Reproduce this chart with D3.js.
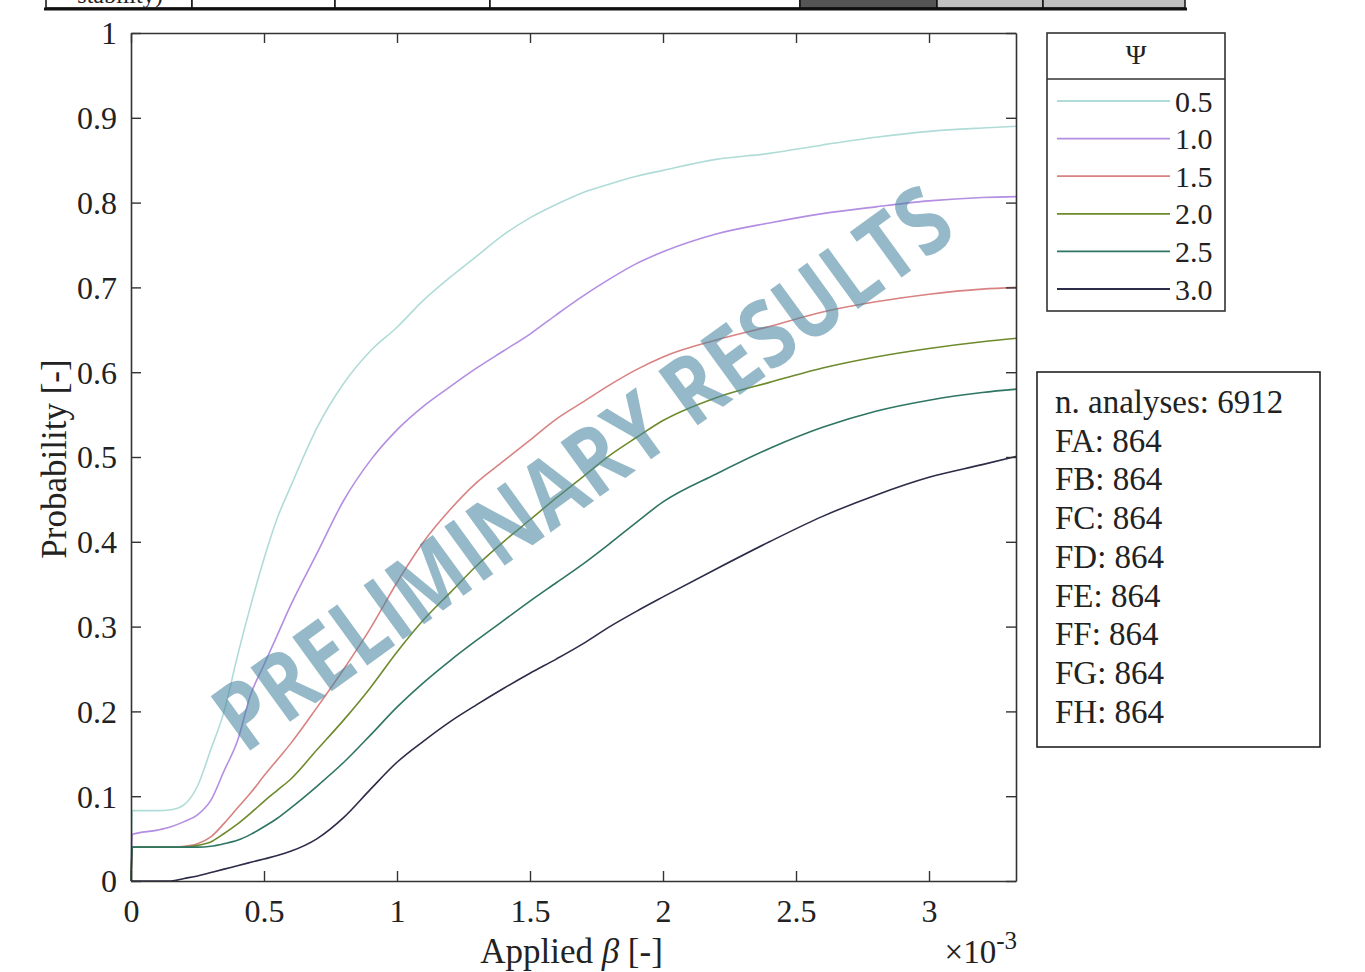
<!DOCTYPE html>
<html>
<head>
<meta charset="utf-8">
<script src="https://cdn.jsdelivr.net/npm/d3@7"></script>
<style>
  body { margin: 0; background: #fff; }
  svg text { font-family: "Liberation Serif", "DejaVu Serif", serif; fill: #222; }
</style>
</head>
<body>
<script>
// applied beta, in units of 1e-3
const betaVals = [0, 0.005, 0.1, 0.15, 0.2, 0.25, 0.3, 0.35, 0.4, 0.45, 0.5, 0.55, 0.6, 0.7, 0.8, 0.9,
                  1.0, 1.1, 1.2, 1.3, 1.4, 1.5, 1.6, 1.7, 1.8, 1.9, 2.0, 2.2, 2.4, 2.6, 2.8, 3.0, 3.2, 3.33]

const psi05 = [0, 0.083, 0.083, 0.084, 0.09, 0.112, 0.155, 0.2, 0.265, 0.325, 0.38, 0.428, 0.465, 0.535, 0.587, 0.625,
               0.653, 0.685, 0.712, 0.737, 0.762, 0.782, 0.798, 0.812, 0.822, 0.831, 0.838, 0.851, 0.858, 0.868, 0.877, 0.884, 0.888, 0.890]
const psi10 = [0, 0.055, 0.06, 0.064, 0.07, 0.078, 0.095, 0.13, 0.165, 0.22, 0.255, 0.29, 0.325, 0.387, 0.449, 0.496,
               0.532, 0.56, 0.583, 0.605, 0.625, 0.645, 0.668, 0.69, 0.71, 0.728, 0.742, 0.763, 0.776, 0.787, 0.795, 0.802, 0.806, 0.807]
const psi15 = [0, 0.04, 0.04, 0.04, 0.041, 0.044, 0.052, 0.068, 0.086, 0.104, 0.124, 0.143, 0.162, 0.205, 0.25, 0.298,
               0.352, 0.40, 0.438, 0.47, 0.495, 0.52, 0.545, 0.565, 0.585, 0.603, 0.618, 0.638, 0.654, 0.671, 0.683, 0.692, 0.698, 0.700]
const psi20 = [0, 0.04, 0.04, 0.04, 0.04, 0.042, 0.046, 0.056, 0.067, 0.08, 0.094, 0.107, 0.12, 0.155, 0.19, 0.228,
               0.27, 0.308, 0.34, 0.372, 0.40, 0.426, 0.452, 0.477, 0.502, 0.523, 0.543, 0.57, 0.588, 0.605, 0.618, 0.628, 0.636, 0.640]
const psi25 = [0, 0.04, 0.04, 0.04, 0.04, 0.04, 0.041, 0.044, 0.048, 0.055, 0.064, 0.074, 0.086, 0.112, 0.14, 0.172,
               0.205, 0.234, 0.26, 0.284, 0.307, 0.33, 0.352, 0.374, 0.398, 0.423, 0.447, 0.48, 0.51, 0.535, 0.554, 0.567, 0.576, 0.580]
const psi30 = [0, 0, 0, 0, 0.003, 0.006, 0.01, 0.014, 0.018, 0.022, 0.026, 0.03, 0.035, 0.05, 0.075, 0.108,
               0.14, 0.165, 0.188, 0.208, 0.227, 0.245, 0.262, 0.28, 0.30, 0.318, 0.335, 0.368, 0.40, 0.43, 0.455, 0.476, 0.491, 0.501]

const psiLabels = ["0.5", "1.0", "1.5", "2.0", "2.5", "3.0"]
const psiColors = ["#b0dcd8", "#b38ee2", "#d88282", "#6d8a2c", "#2f7563", "#2c2b48"]
const psiSeries = [psi05, psi10, psi15, psi20, psi25, psi30]

const xTicks = [0, 0.5, 1, 1.5, 2, 2.5, 3]
const yTicks = [0, 0.1, 0.2, 0.3, 0.4, 0.5, 0.6, 0.7, 0.8, 0.9, 1]

const infoLines = ["n. analyses: 6912", "FA: 864", "FB: 864", "FC: 864", "FD: 864", "FE: 864", "FF: 864", "FG: 864", "FH: 864"]

let W = 1365
let H = 972
let pL = 131, pR = 1016, pT = 33, pB = 881

let svg = d3.select("body").append("svg")
            .attr("width", W)
            .attr("height", H)

// cut-off table on top of the page
let tableEdges = [46, 192, 335, 490, 800, 937, 1043, 1185]
let tableFill = ["#fff", "#fff", "#fff", "#fff", "#555", "#c0c0c0", "#c0c0c0"]
let table = svg.append("g")
table.selectAll("rect")
     .data(tableFill)
     .enter()
     .append("rect")
        .attr("x", (d, i) => tableEdges[i])
        .attr("y", -2)
        .attr("width", (d, i) => tableEdges[i + 1] - tableEdges[i])
        .attr("height", 10)
        .attr("fill", d => d)
        .attr("stroke", "#111")
        .attr("stroke-width", 1.5)
table.append("line")
     .attr("x1", 44).attr("x2", 1187)
     .attr("y1", 9).attr("y2", 9)
     .attr("stroke", "#111")
     .attr("stroke-width", 3)
table.append("text")
     .attr("x", 120).attr("y", 3)
     .attr("text-anchor", "middle")
     .attr("font-size", 24)
     .text("stability)")

let x = d3.scaleLinear().domain([0, 3.327]).range([pL, pR])
let y = d3.scaleLinear().domain([0, 1]).range([pB, pT])

// curves
let line = d3.line()
             .x((d, i) => x(betaVals[i]))
             .y(d => y(d))
             .curve(d3.curveMonotoneX)

svg.append("g")
   .selectAll("path")
   .data(psiSeries)
   .enter()
   .append("path")
      .attr("d", d => line(d))
      .attr("fill", "none")
      .attr("stroke", (d, i) => psiColors[i])
      .attr("stroke-width", 1.6)

// axes, ticks pointing inward like matlab
let fmtY = d => d === 0 ? "0" : d === 1 ? "1" : d3.format(".1f")(d)
let fmtX = d => d === 0 ? "0" : d3.format("~g")(d)

let axB = svg.append("g")
             .attr("transform", "translate(0," + pB + ")")
             .call(d3.axisBottom(x).tickValues(xTicks).tickFormat(fmtX).tickSizeInner(-10).tickSizeOuter(0))
let axT = svg.append("g")
             .attr("transform", "translate(0," + pT + ")")
             .call(d3.axisTop(x).tickValues(xTicks).tickFormat("").tickSizeInner(-10).tickSizeOuter(0))
let axL = svg.append("g")
             .attr("transform", "translate(" + pL + ",0)")
             .call(d3.axisLeft(y).tickValues(yTicks).tickFormat(fmtY).tickSizeInner(-10).tickSizeOuter(0).tickPadding(14))
let axR = svg.append("g")
             .attr("transform", "translate(" + pR + ",0)")
             .call(d3.axisRight(y).tickValues(yTicks).tickFormat("").tickSizeInner(-10).tickSizeOuter(0))

;[axB, axT, axL, axR].forEach(a => {
    a.select(".domain").attr("stroke", "#333").attr("stroke-width", 1.6)
    a.selectAll(".tick line").attr("stroke", "#333").attr("stroke-width", 1.4)
    a.selectAll("text").attr("font-size", 32).attr("font-family", "Liberation Serif").attr("fill", "#222")
})
axB.selectAll("text").attr("dy", "0.71em").attr("y", 18)
axL.selectAll("text").attr("dy", "0.34em")

// axis titles
svg.append("text")
   .attr("transform", "translate(66," + ((pT + pB) / 2 + 2) + ") rotate(-90)")
   .attr("text-anchor", "middle")
   .attr("font-size", 35)
   .text("Probability [-]")

let xt = svg.append("text")
            .attr("x", (pL + pR) / 2 - 2)
            .attr("y", 963)
            .attr("text-anchor", "middle")
            .attr("font-size", 35)
xt.append("tspan").text("Applied ")
xt.append("tspan").attr("font-style", "italic").text("\u03b2")
xt.append("tspan").text(" [-]")

let mult = svg.append("text")
              .attr("x", pR + 1)
              .attr("y", 963)
              .attr("text-anchor", "end")
              .attr("font-size", 33)
mult.append("tspan").text("\u00d710")
mult.append("tspan").attr("font-size", 25).attr("dy", -14).text("-3")

// legend
let lg = svg.append("g")
lg.append("rect")
  .attr("x", 1047).attr("y", 33)
  .attr("width", 178).attr("height", 278)
  .attr("fill", "#fff")
  .attr("stroke", "#333")
  .attr("stroke-width", 1.6)
lg.append("line")
  .attr("x1", 1047).attr("x2", 1225)
  .attr("y1", 79).attr("y2", 79)
  .attr("stroke", "#333")
  .attr("stroke-width", 1.6)
lg.append("text")
  .attr("x", 1136).attr("y", 64)
  .attr("text-anchor", "middle")
  .attr("font-size", 28)
  .text("\u03a8")

let rows = lg.selectAll(".row")
             .data(psiLabels)
             .enter()
             .append("g")
                .attr("class", "row")
                .attr("transform", (d, i) => "translate(0," + (101 + i * 37.6) + ")")
rows.append("line")
    .attr("x1", 1057).attr("x2", 1170)
    .attr("stroke", (d, i) => psiColors[i])
    .attr("stroke-width", 1.8)
rows.append("text")
    .attr("x", 1175)
    .attr("dy", "0.35em")
    .attr("font-size", 30)
    .text(d => d)

// info box
let ib = svg.append("g")
ib.append("rect")
  .attr("x", 1037).attr("y", 372)
  .attr("width", 283).attr("height", 375)
  .attr("fill", "#fff")
  .attr("stroke", "#222")
  .attr("stroke-width", 1.6)
ib.selectAll("text")
  .data(infoLines)
  .enter()
  .append("text")
     .attr("x", 1055)
     .attr("y", (d, i) => 413 + i * 38.7)
     .attr("font-size", 33)
     .attr("fill", "#111")
     .text(d => d)

// watermark
svg.append("text")
   .attr("transform", "translate(602,495) rotate(-36)")
   .attr("text-anchor", "middle")
   .attr("font-size", 94)
   .attr("textLength", 884)
   .attr("lengthAdjust", "spacingAndGlyphs")
   .style("font-family", "'Open Sans', 'Noto Sans', sans-serif")
   .style("font-weight", "bold")
   .style("fill", "rgb(72,134,160)")
   .style("fill-opacity", 0.58)
   .text("PRELIMINARY RESULTS")
</script>
</body>
</html>
